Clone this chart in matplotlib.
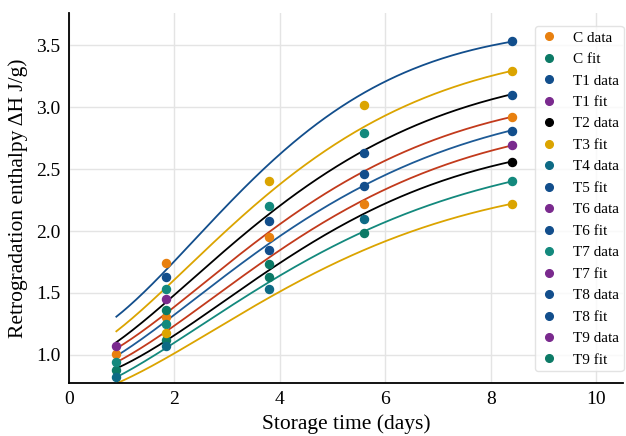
import numpy as np
import matplotlib
matplotlib.use("Agg")
import matplotlib.pyplot as plt

nan = np.nan

# storage times of the measured points (days)
times = np.array([0.9, 1.85, 3.8, 5.6, 8.4])

# measured points, one row per legend entry (nan = no point)
series_labels = ["C data", "C fit", "T1 data", "T1 fit", "T2 data", "T3 fit",
                 "T4 data", "T5 fit", "T6 data", "T6 fit", "T7 data", "T7 fit",
                 "T8 data", "T8 fit", "T9 data", "T9 fit"]
series_values = [
    [1.01, 1.74, 1.95, 2.22, 2.92],   # C data
    [0.88, 1.12, 1.63, nan, nan],     # C fit
    [nan, 1.63, 2.08, 2.63, 3.10],    # T1 data
    [1.07, 1.45, nan, nan, nan],      # T1 fit
    [nan, nan, nan, nan, 2.56],       # T2 data
    [nan, 1.18, 2.40, 3.02, 3.29],    # T3 fit
    [0.82, 1.07, 1.53, 2.10, nan],    # T4 data
    [nan, nan, 1.85, 2.46, 2.81],     # T5 fit
    [nan, nan, nan, nan, 2.69],       # T6 data
    [nan, nan, nan, 2.36, nan],       # T6 fit
    [0.94, 1.53, 2.20, 2.79, 2.40],   # T7 data
    [nan, nan, nan, nan, nan],        # T7 fit
    [nan, nan, nan, nan, 3.53],       # T8 data
    [nan, nan, nan, nan, nan],        # T8 fit
    [nan, nan, nan, nan, nan],        # T9 data
    [nan, 1.36, 1.73, 1.98, nan],     # T9 fit
]
# extra points drawn without a legend entry
extra_values = [
    [nan, 1.31, nan, nan, nan],
    [nan, nan, nan, nan, 2.22],
    [nan, 1.25, nan, nan, nan],
]

# fitted curves at a few times
fit_times = np.array([0.9, 3.5, 5.5, 8.4])
fit_values = [
    [1.31, 2.42, 3.09, 3.53],
    [1.19, 2.20, 2.82, 3.29],
    [1.10, 2.04, 2.63, 3.10],
    [1.05, 1.90, 2.46, 2.92],
    [0.99, 1.81, 2.35, 2.81],
    [0.94, 1.70, 2.23, 2.69],
    [0.89, 1.60, 2.12, 2.56],
    [0.82, 1.51, 1.98, 2.40],
    [0.77, 1.39, 1.83, 2.22],
]

# colours
orange = "#e8800f"
teal_dk = "#0c7a66"
blue = "#124e8c"
purple = "#7a2a8e"
gold = "#dba400"
teal_bl = "#0d6a85"
teal = "#13897d"
red = "#c23a1c"
series_colors = [orange, teal_dk, blue, purple, "black", gold, teal_bl, blue,
                 purple, blue, teal, purple, blue, blue, purple, teal_dk]
extra_colors = [orange, gold, teal]
fit_colors = [blue, gold, "black", red, "#1d5a96", red, "black", teal, gold]


def avrami_fit(t, h):
    # H(t) = H0 + A*(1 - exp(-k t^n)), grid over k, n and least squares for H0, A
    best = None
    for n in np.linspace(1.0, 2.2, 49):
        for k in np.logspace(-2.5, -0.3, 89):
            f = 1 - np.exp(-k * t ** n)
            M = np.column_stack([np.ones_like(t), f])
            coef = np.linalg.lstsq(M, h, rcond=None)[0]
            err = np.sum((M @ coef - h) ** 2)
            if best is None or err < best[0]:
                best = (err, coef[0], coef[1], k, n)
    return best[1:]


plt.rcParams['font.family'] = ['Liberation Serif', 'DejaVu Serif']

fig = plt.figure(figsize=(6.26, 4.36), dpi=100)
ax = fig.add_axes([0.110, 0.1216, 0.885, 0.8484])

t_line = np.linspace(0.9, 8.4, 200)
for vals, c in zip(fit_values, fit_colors):
    h0, a, k, n = avrami_fit(fit_times, np.array(vals))
    ax.plot(t_line, h0 + a * (1 - np.exp(-k * t_line ** n)), color=c, lw=1.3, zorder=2)

for vals, c in zip(extra_values, extra_colors):
    ax.plot(times, vals, 'o', color=c, ms=5.8, zorder=3, label='_nolegend_')
for vals, c, lab in zip(series_values, series_colors, series_labels):
    ax.plot(times, vals, 'o', color=c, ms=5.8, zorder=3, label=lab)

ax.set_xlim(0, 10.5)
ax.set_ylim(0.774, 3.758)
ax.set_xticks([0, 2, 4, 6, 8, 10])
ax.set_yticks([1.0, 1.5, 2.0, 2.5, 3.0, 3.5])
ax.grid(True, color='#e4e4e4', lw=1.0)
ax.set_axisbelow(True)
ax.tick_params(length=0, labelsize=14, pad=6)
for s in ['top', 'right']:
    ax.spines[s].set_visible(False)
for s in ['left', 'bottom']:
    ax.spines[s].set_linewidth(1.3)
    ax.spines[s].set_color('black')

ax.set_xlabel('Storage time (days)', fontsize=15.5, labelpad=4)
ax.set_ylabel('Retrogradation enthalpy ΔH J/g)', fontsize=15.5, labelpad=6)

leg = ax.legend(loc='upper right', bbox_to_anchor=(1.015, 0.985), fontsize=11,
                frameon=True, labelspacing=0.51, handletextpad=1.0,
                borderpad=0.3, handlelength=1.2, markerscale=0.95)
leg.get_frame().set_edgecolor('#dddddd')
leg.get_frame().set_linewidth(1.0)

fig.savefig('out.png', dpi=100)
